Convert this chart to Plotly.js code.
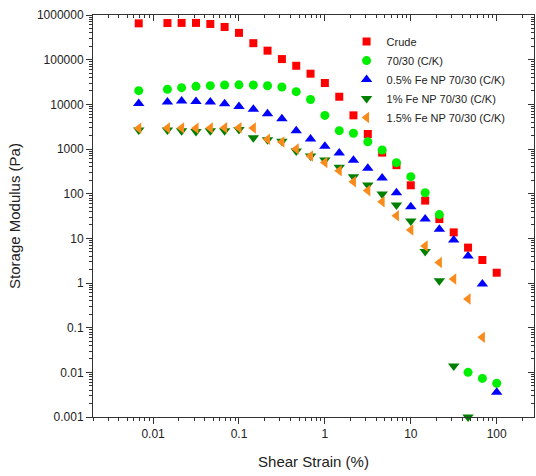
<!DOCTYPE html>
<html>
<head>
<meta charset="utf-8">
<script src="https://cdn.plot.ly/plotly-3.0.1.min.js"></script>
<style>html,body{margin:0;padding:0;background:#fff;}#chart{width:536px;height:476px;}</style>
</head>
<body>
<div id="chart"></div>
<script>
// Shear strain (%)
const strain = [0.00681, 0.0147, 0.0215, 0.0316, 0.0464, 0.0681, 0.1, 0.147, 0.215, 0.316, 0.464, 0.681, 1, 1.47, 2.15, 3.16, 4.64, 6.81, 10, 14.7, 21.5, 31.6, 46.4, 68.1, 100];
// Storage modulus (Pa)
const crude = [650000, 660000, 665000, 665000, 630000, 540000, 398000, 234000, 159000, 103000, 73000, 48500, 30000, 14800, 5670, 2170, 830, 435, 154, 70, 27, 13.6, 6.2, 3.27, 1.7];
const c70_30 = [20200, 21700, 23600, 25300, 26200, 27100, 27300, 27100, 26100, 24400, 19200, 12800, 5650, 2570, 2250, 1450, 950, 495, 240, 105, 34, null, 0.0100, 0.0073, 0.0057];
const fe05 = [10500, 11300, 11900, 11500, 11300, 10300, 9000, 7770, 6150, 4750, 2550, 1680, 1150, 815, 560, 370, 225, 105, 51, 27, 15.9, 9.2, 4.0, 0.95, 0.0036];
const fe1 = [2650, 2650, 2550, 2450, 2550, 2550, 2750, 1780, 1620, 1500, 900, 700, 568, 389, 240, 156, 98, 56, 24.4, 5.1, 1.12, 0.0139, 0.001, null, null];
const fe15 = [2900, 2950, 2950, 2900, 2950, 3000, 3000, 2950, 1650, 1440, 1000, 700, 496, 327, 185, 117, 66, 32, 15.4, 6.7, 2.87, 1.23, 0.44, 0.061, null];

const seriesNames = ['Crude', '70/30 (C/K)', '0.5% Fe NP 70/30 (C/K)', '1% Fe NP 70/30 (C/K)', '1.5% Fe NP 70/30 (C/K)'];

const xTickVals = [0.01, 0.1, 1, 10, 100];
const xTickText = ['0.01', '0.1', '1', '10', '100'];
const yTickVals = [0.001, 0.01, 0.1, 1, 10, 100, 1000, 10000, 100000, 1000000];
const yTickText = ['0.001', '0.01', '0.1', '1', '10', '100', '1000', '10000', '100000', '1000000'];

function minorVals(lo, hi) {
  const out = [];
  for (let e = lo; e <= hi; e++) {
    for (let d = 2; d <= 9; d++) out.push(d * Math.pow(10, e));
  }
  return out;
}
const xMinor = minorVals(-3, 2);
const yMinor = minorVals(-3, 5);

const styles = [
  {symbol: 'square', color: '#ff0000', size: 8},
  {symbol: 'circle', color: '#00ee00', size: 9},
  {symbol: 'triangle-up', color: '#0000ff', size: 10},
  {symbol: 'triangle-down', color: '#008000', size: 10},
  {symbol: 'triangle-left', color: '#f98b1d', size: 10}
];
const ys = [crude, c70_30, fe05, fe1, fe15];

const traces = ys.map((y, i) => ({
  x: strain, y: y, type: 'scatter', mode: 'markers', name: seriesNames[i],
  cliponaxis: false,
  marker: {symbol: styles[i].symbol, color: styles[i].color, size: styles[i].size, line: {width: 0}}
}));
// empty trace to carry the mirrored (inside-tick) top/right axes
traces.push({x: [], y: [], xaxis: 'x2', yaxis: 'y2', type: 'scatter', mode: 'markers', showlegend: false, hoverinfo: 'skip'});

const xr = [Math.log10(0.002), 2.434];
const yr = [-3, 6];
const FONT = 'Liberation Sans, Arial, sans-serif';
const tickFont = {family: FONT, size: 12, color: '#222'};

function minorSpec(vals, dir) {
  return {tickmode: 'array', tickvals: vals, ticks: dir, ticklen: 3, tickwidth: 1, tickcolor: '#333', showgrid: false};
}

const layout = {
  width: 536, height: 476,
  margin: {l: 93, r: 2, t: 15, b: 59},
  paper_bgcolor: '#fff', plot_bgcolor: '#fff',
  showlegend: true,
  legend: {x: 0.575, y: 0.97, xanchor: 'left', yanchor: 'top', bgcolor: 'rgba(0,0,0,0)',
           font: {family: FONT, size: 11, color: '#222'}, tracegroupgap: 0},
  xaxis: {
    type: 'log', range: xr, tickmode: 'array', tickvals: xTickVals, ticktext: xTickText,
    ticks: 'outside', ticklen: 6, tickwidth: 1, tickcolor: '#333',
    minor: minorSpec(xMinor, 'outside'),
    showline: true, linecolor: '#333', linewidth: 1, mirror: true,
    showgrid: false, zeroline: false, tickfont: tickFont,
    title: {text: 'Shear Strain (%)', font: {family: FONT, size: 15, color: '#222'}, standoff: 16}
  },
  yaxis: {
    type: 'log', range: yr, tickmode: 'array', tickvals: yTickVals, ticktext: yTickText,
    ticks: 'outside', ticklen: 6, tickwidth: 1, tickcolor: '#333',
    minor: minorSpec(yMinor, 'outside'),
    showline: true, linecolor: '#333', linewidth: 1, mirror: true,
    showgrid: false, zeroline: false, tickfont: tickFont,
    title: {text: 'Storage Modulus (Pa)', font: {family: FONT, size: 15, color: '#222'}, standoff: 12}
  },
  xaxis2: {
    type: 'log', range: xr, overlaying: 'x', side: 'top', anchor: 'y',
    tickmode: 'array', tickvals: xTickVals, ticks: 'inside', ticklen: 6, tickcolor: '#333',
    minor: minorSpec(xMinor, 'inside'),
    showticklabels: false, showgrid: false, zeroline: false, showline: false
  },
  yaxis2: {
    type: 'log', range: yr, overlaying: 'y', side: 'right', anchor: 'x',
    tickmode: 'array', tickvals: yTickVals, ticks: 'inside', ticklen: 6, tickcolor: '#333',
    minor: minorSpec(yMinor, 'inside'),
    showticklabels: false, showgrid: false, zeroline: false, showline: false
  }
};

Plotly.newPlot('chart', traces, layout, {displayModeBar: false, staticPlot: true});
</script>
</body>
</html>
